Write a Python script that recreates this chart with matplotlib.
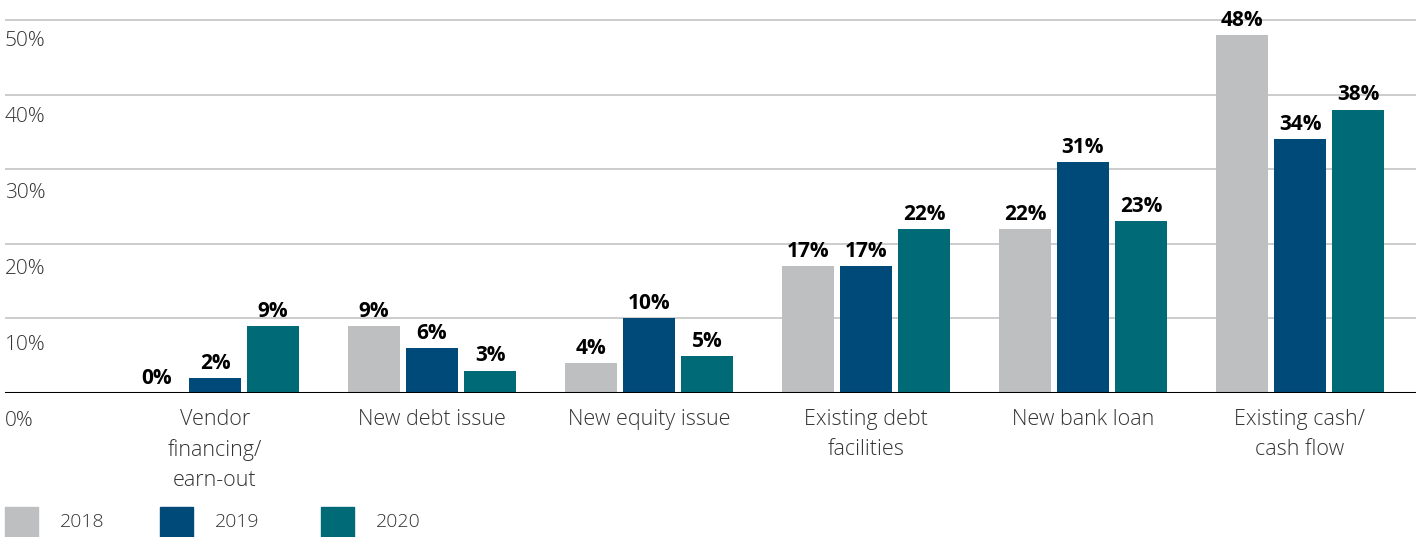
import matplotlib
matplotlib.use("Agg")
import matplotlib.pyplot as plt
import numpy as np
from matplotlib.patches import Rectangle

categories = ["Vendor\nfinancing/\nearn-out", "New debt issue", "New equity issue",
              "Existing debt\nfacilities", "New bank loan", "Existing cash/\ncash flow"]
years = ["2018", "2019", "2020"]
vals_2018 = [0, 9, 4, 17, 22, 48]
vals_2019 = [2, 6, 10, 17, 31, 34]
vals_2020 = [9, 3, 5, 22, 23, 38]
y_ticks = [0, 10, 20, 30, 40, 50]

colors = ["#BEBFC1", "#004A7A", "#006B76"]
text_c = "#333333"
W, H = 1416, 537
plt.rcParams["font.family"] = ["Open Sans", "DejaVu Sans"]

fig = plt.figure(figsize=(W / 100, H / 100), dpi=100)
ax = fig.add_axes([5 / W, (H - 393) / H, 1 - 5 / W, 393 / H])
ax.set_xlim(-210 / 217, (W - 215) / 217)
ax.set_ylim(0, 393 / 7.46)

x = np.arange(len(categories))
bw = 52 / 217
step = 58 / 217
series = [vals_2018, vals_2019, vals_2020]
for k, (vals, c) in enumerate(zip(series, colors)):
    xs = x + (k - 1) * step
    ax.bar(xs, vals, width=bw, color=c, zorder=3)
    for xi, v in zip(xs, vals):
        ax.annotate(f"{v}%", (xi, v), xytext=(0, 3), textcoords="offset points",
                    ha="center", va="bottom", fontsize=15, fontweight="bold",
                    color="black", zorder=4)

for v in y_ticks[1:]:
    ax.axhline(v, color="#C8C8C8", lw=1.3, zorder=1)
ax.axhline(0, color="black", lw=2.2, zorder=5)

# y labels sit in the band under each gridline
for v in y_ticks:
    off = 21 + 7 * (1 - v / 50)
    ax.annotate(f"{v}%", (0, v), xycoords=("axes fraction", "data"),
                xytext=(0, -off * 0.72), textcoords="offset points",
                ha="left", va="center", fontsize=15, color=text_c,
                fontweight="light")

for xi, lab in zip(x, categories):
    ax.annotate(lab, (xi, 0), xytext=(0, -11.5), textcoords="offset points",
                ha="center", va="top", fontsize=15.5, color=text_c,
                fontweight="light", linespacing=1.55, annotation_clip=False)

ax.set_xticks([])
ax.set_yticks([])
for s in ax.spines.values():
    s.set_visible(False)

# legend at the bottom
for i, (yr, c) in enumerate(zip(years, colors)):
    x0 = [5, 160, 321][i]
    fig.patches.append(Rectangle((x0 / W, 0), 33 / W, 30 / H, color=c,
                                 transform=fig.transFigure, figure=fig))
    fig.text((x0 + 55) / W, 15 / H, yr, ha="left", va="center", fontsize=14,
             color=text_c, fontweight="light")

fig.savefig("out.png", dpi=100)
